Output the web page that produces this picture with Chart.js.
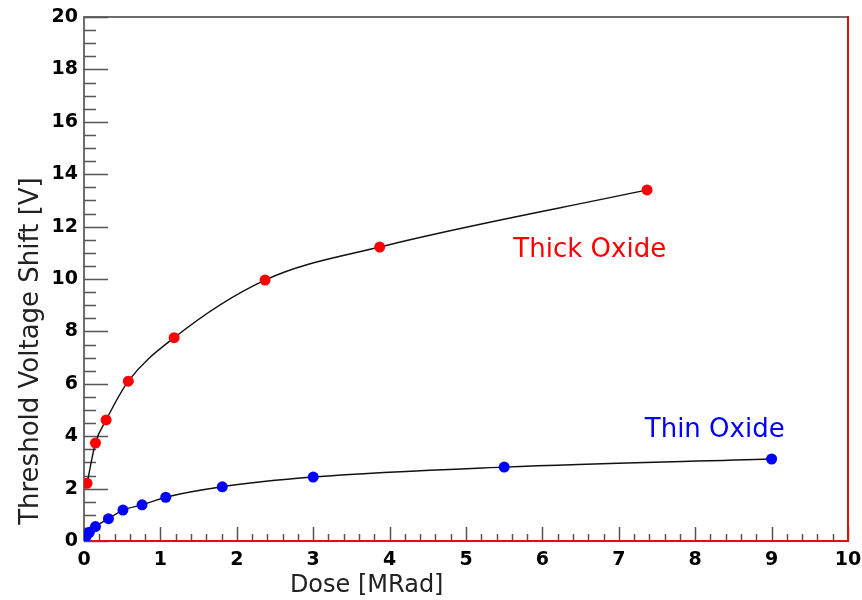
<!DOCTYPE html>
<html>
<head>
<meta charset="utf-8">
<script src="https://cdn.jsdelivr.net/npm/chart.js@4.4.0/dist/chart.umd.min.js"></script>
<style>
    html, body { margin: 0; padding: 0; background: #fff; }
    #wrap { width: 862px; height: 600px; }
</style>
</head>
<body>
<div id="wrap"><canvas id="doseChart" width="862" height="600"></canvas></div>
<script>
// Data (dose in MRad, shift in V)
const thickDose  = [0.04, 0.15, 0.29, 0.58, 1.18, 2.37, 3.87, 7.37];
const thickShift = [2.20, 3.74, 4.62, 6.10, 7.76, 9.96, 11.22, 13.40];

const thinDose  = [0.00, 0.03, 0.07, 0.15, 0.32, 0.51, 0.76, 1.07, 1.81, 3.00, 5.50, 9.00];
const thinShift = [0.02, 0.18, 0.33, 0.55, 0.85, 1.18, 1.38, 1.67, 2.07, 2.44, 2.82, 3.13];

const xTicks = [0, 1, 2, 3, 4, 5, 6, 7, 8, 9, 10];
const yTicks = [0, 2, 4, 6, 8, 10, 12, 14, 16, 18, 20];

const xTitle = 'Dose [MRad]';
const yTitle = 'Threshold Voltage Shift [V]';

// text labels placed in data coordinates
const labels = [
    { text: 'Thick Oxide', x: 5.62, y: 10.84, color: '#ff0000' },
    { text: 'Thin Oxide',  x: 7.34, y: 3.97,  color: '#0000ff' }
];

const toPoints = (xs, ys) => xs.map((x, i) => ({ x: x, y: ys[i] }));

// ROOT style frame with inward ticks
const framePlugin = {
    id: 'frame',
    beforeDatasetsDraw(chart) {
        const ctx = chart.ctx;
        const a = chart.chartArea;
        const xs = chart.scales.x;
        const ys = chart.scales.y;
        ctx.save();

        // top and left in gray
        ctx.strokeStyle = '#6e6e6e';
        ctx.lineWidth = 2;
        ctx.beginPath();
        ctx.moveTo(a.left, a.bottom);
        ctx.lineTo(a.left, a.top);
        ctx.lineTo(a.right, a.top);
        ctx.stroke();

        // ticks
        ctx.strokeStyle = '#555';
        ctx.lineWidth = 1.5;
        ctx.beginPath();
        for (let i = 0; i <= 50; i++) {
            const v = i * 0.2;
            const px = Math.round(xs.getPixelForValue(v)) + 0.5;
            const len = (i % 5 === 0) ? 14 : 7;
            ctx.moveTo(px, a.bottom);
            ctx.lineTo(px, a.bottom - len);
        }
        for (let i = 0; i <= 40; i++) {
            const v = i * 0.5;
            const py = Math.round(ys.getPixelForValue(v)) + 0.5;
            const len = (i % 4 === 0) ? 24 : 12;
            ctx.moveTo(a.left, py);
            ctx.lineTo(a.left + len, py);
        }
        ctx.stroke();

        // bottom and right in red
        ctx.strokeStyle = '#e01010';
        ctx.lineWidth = 2;
        ctx.beginPath();
        ctx.moveTo(a.left, a.bottom);
        ctx.lineTo(a.right, a.bottom);
        ctx.lineTo(a.right, a.top - 1);
        ctx.stroke();
        ctx.restore();
    },
    afterDatasetsDraw(chart) {
        const ctx = chart.ctx;
        const xs = chart.scales.x;
        const ys = chart.scales.y;
        ctx.save();

        // annotations
        ctx.font = '26px "DejaVu Sans"';
        ctx.textAlign = 'left';
        ctx.textBaseline = 'alphabetic';
        labels.forEach(l => {
            ctx.fillStyle = l.color;
            ctx.fillText(l.text, xs.getPixelForValue(l.x), ys.getPixelForValue(l.y));
        });

        // axis titles
        ctx.fillStyle = '#222';
        ctx.font = '24px "DejaVu Sans"';
        ctx.textAlign = 'center';
        ctx.fillText(xTitle, xs.getPixelForValue(3.7), 592);

        ctx.font = '26px "DejaVu Sans"';
        ctx.translate(38, ys.getPixelForValue(7.25));
        ctx.rotate(-Math.PI / 2);
        ctx.fillText(yTitle, 0, 0);
        ctx.restore();
    }
};

const tickFont = { family: 'DejaVu Sans', size: 19, weight: 'bold' };

new Chart(document.getElementById('doseChart').getContext('2d'), {
    type: 'scatter',
    data: {
        datasets: [
            {
                label: 'Thick Oxide',
                data: toPoints(thickDose, thickShift),
                showLine: true,
                cubicInterpolationMode: 'monotone',
                borderColor: '#111',
                borderWidth: 1.4,
                pointRadius: 5.5,
                pointBackgroundColor: '#ff0000',
                pointBorderColor: '#ff0000',
                pointBorderWidth: 0
            },
            {
                // small error bar dash inside the red markers
                label: 'Thick Oxide err',
                data: toPoints(thickDose, thickShift),
                showLine: false,
                pointStyle: 'line',
                pointRadius: 4,
                pointBorderColor: '#000',
                pointBorderWidth: 1.5
            },
            {
                label: 'Thin Oxide',
                data: toPoints(thinDose, thinShift),
                showLine: true,
                cubicInterpolationMode: 'monotone',
                borderColor: '#111',
                borderWidth: 1.4,
                pointRadius: 5.5,
                pointBackgroundColor: '#0000ff',
                pointBorderColor: '#0000ff',
                pointBorderWidth: 0
            }
        ]
    },
    options: {
        responsive: false,
        animation: false,
        layout: { padding: { left: 0, top: 17, right: 14, bottom: 0 } },
        plugins: {
            legend: { display: false },
            tooltip: { enabled: false }
        },
        scales: {
            x: {
                type: 'linear',
                min: 0,
                max: 10,
                afterBuildTicks: s => { s.ticks = xTicks.map(v => ({ value: v })); },
                afterFit: s => { s.height = 59; s.paddingLeft = 0; s.paddingRight = 0; },
                grid: { display: false, drawTicks: false },
                border: { display: false },
                ticks: { font: tickFont, color: '#000', padding: 8, maxRotation: 0 }
            },
            y: {
                min: 0,
                max: 20,
                afterBuildTicks: s => { s.ticks = yTicks.map(v => ({ value: v })); },
                afterFit: s => { s.width = 84; s.paddingTop = 0; s.paddingBottom = 0; },
                grid: { display: false, drawTicks: false },
                border: { display: false },
                ticks: { font: tickFont, color: '#000', padding: 6 }
            }
        }
    },
    plugins: [framePlugin]
});
</script>
</body>
</html>
